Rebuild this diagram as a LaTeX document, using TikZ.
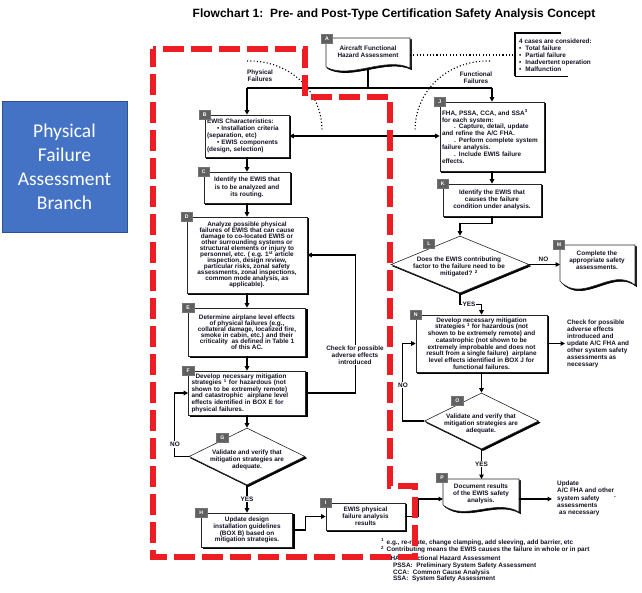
\documentclass[tikz,border=0pt]{standalone}
\usepackage{fontspec}
\setmainfont{Liberation Sans}
\newfontfamily\calibfont{Carlito}
\usetikzlibrary{arrows.meta,shapes.geometric,shadows,calc}
\definecolor{txt}{RGB}{20,20,38}
\definecolor{redd}{RGB}{236,30,36}
\definecolor{bluebox}{RGB}{68,114,196}
\definecolor{blueedge}{RGB}{47,82,143}
\definecolor{tagfill}{RGB}{96,96,96}
\newcommand{\tightls}{\lineskiplimit=-20pt\relax\lineskip=0pt\relax}
\begin{document}
\begin{tikzpicture}[x=1pt,y=-1pt,
  every node/.style={inner sep=0pt, text=txt, font={\bfseries\fontsize{6.4}{6.6}\selectfont\tightls}},
  fs/.style={font={\bfseries\fontsize{6.4}{#1}\selectfont\tightls}},
  shad/.style={copy shadow={shadow xshift=1.6pt, shadow yshift=-1.6pt, fill=black, draw=black, line width=0.6pt}},
  fbox/.style={draw=black!85, line width=0.6pt, fill=white, shad},
  diam/.style={diamond, draw=black!85, line width=0.6pt, fill=white, inner sep=0pt, shad},
  tag/.style={draw=black!55, line width=0.6pt, fill=tagfill, text=white, minimum width=11.5pt, minimum height=9pt, font=\bfseries\fontsize{5.2}{5.2}\selectfont},
  conn/.style={line width=1.3pt, draw=black},
  arr/.style={conn, -{Triangle[length=4.5pt,width=4.5pt]}},
  arrboth/.style={conn, {Triangle[length=4.5pt,width=4.5pt]}-{Triangle[length=4.5pt,width=4.5pt]}},
  lab/.style={fill=white, inner sep=0.8pt},
  dotl/.style={draw=black, line width=1.1pt, dash pattern=on 1.1pt off 2.2pt},
  redline/.style={draw=redd, line width=6pt, dash pattern=on 21pt off 7pt, dash phase=3pt, line join=miter}
]
\useasboundingbox (0,0) rectangle (642,593);
\fill[white] (0,0) rectangle (642,593);

% title
\node[font=\bfseries\fontsize{12}{14}\selectfont, text=black] (title) at (394,14) {Flowchart 1:\ \ Pre- and Post-Type Certification Safety Analysis Concept};

% side label
\node[draw=blueedge, line width=0.8pt, fill=bluebox, minimum width=125pt, minimum height=131pt, text=white, align=center, font=\calibfont\fontsize{19.5}{24}\selectfont] (branch) at (64.5,166.5) {Physical\\Failure\\Assessment\\Branch};

% A (document)
\path[fbox] (326,38) -- (410,38) -- (410,68) .. controls (385,56) and (350,80) .. (326,67) -- cycle;
\node[fs=7, align=center] (A) at (368,51.5) {Aircraft Functional\\Hazard Assessment};
\coordinate (Abot) at (368,68);
\coordinate (Aright) at (410,55);

% 4 cases box
\draw[line width=1.7pt] (561,33) -- (515,33) -- (515,76);
\draw[line width=0.8pt] (515,76) -- (568,76);
\node[fs=7, align=left, anchor=west] (cases) at (519,55) {4 cases are considered:\\•\hspace{4pt}Total failure\\•\hspace{4pt}Partial failure\\•\hspace{4pt}Inadvertent operation\\•\hspace{4pt}Malfunction};
\coordinate (casesL) at (515,55);

% branch labels
\node[fs=7, align=center] (pf) at (260,76) {Physical\\Failures};
\node[fs=7, align=center] (ff) at (476,78) {Functional\\Failures};

% left column
\node[fbox, fs=7, text width=80pt, inner xsep=2pt, minimum height=42pt, align=left] (B) at (247,136) {EWIS Characteristics:\\\hspace*{10pt}• Installation criteria\\(separation, etc)\\\hspace*{10pt}• EWIS components\\(design, selection)};
\node[fbox, fs=7.3, minimum width=86pt, minimum height=31pt, align=center] (C) at (247,187.5) {Identify the EWIS that\\is to be analyzed and\\its routing.};
\node[fbox, fs=5.95, minimum width=120pt, minimum height=76pt, align=center] (D) at (247,255) {Analyze possible physical\\failures of EWIS that can cause\\damage to co-located EWIS or\\other surrounding systems or\\structural elements or injury to\\personnel, etc. ( e.g. 1\textsuperscript{st} article\\inspection, design review,\\particular risks, zonal safety\\assessments, zonal inspections,\\common mode analysis, as\\applicable).};
\node[fbox, fs=6.1, minimum width=117pt, minimum height=48pt, align=center] (E) at (247,332) {Determine airplane level effects\\of physical failures (e.g.,\\collateral damage, localized fire,\\smoke in cabin, etc.) and their\\criticality\ \ as defined in Table 1\\of this AC.};
\node[fbox, fs=6.6, text width=111pt, inner xsep=3pt, minimum height=44pt, align=left] (F) at (247,393) {\hspace*{4pt}Develop necessary mitigation\\strategies \textsuperscript{1} for hazardous (not\\shown to be extremely remote)\\and catastrophic\ \ airplane level\\effects identified in BOX E for\\physical failures.};
\node[diam, minimum width=116pt, minimum height=57pt] (G) at (247,456.5) {};
\node[fs=7, align=center] (Gt) at (247,460) {Validate and verify that\\mitigation strategies are\\adequate.};
\node[fbox, fs=6.8, minimum width=91pt, minimum height=34pt, align=center] (H) at (247,530) {Update design\\installation guidelines\\(BOX B) based on\\mitigation strategies.};
\node[fbox, fs=6.8, minimum width=79pt, minimum height=27pt, align=center] (I) at (365.5,516.5) {EWIS physical\\failure analysis\\results};

% right column
\node[fbox, fs=6.9, text width=100pt, inner xsep=2pt, minimum height=69pt, align=left] (J) at (492,136.5) {FHA, PSSA, CCA, and SSA\textsuperscript{3}\\for each system:\\\hspace*{12pt}. Capture, detail, update\\and refine the A/C FHA.\\\hspace*{12pt}. Perform complete system\\failure analysis.\\\hspace*{12pt}. Include EWIS failure\\effects.};
\node[fbox, fs=6.9, minimum width=98pt, minimum height=32pt, align=center] (K) at (492,200) {Identify the EWIS that\\causes the failure\\condition under analysis.};
\node[diam, minimum width=138pt, minimum height=57pt] (L) at (460,264.5) {};
\node[fs=7, align=center] (Lt) at (459,267) {Does the EWIS contributing\\factor to the failure need to be\\mitigated? \textsuperscript{2}};
\path[fbox] (560,245) -- (635,245) -- (635,285) .. controls (612,266) and (582,305) .. (560,281) -- cycle;
\node[fs=7, align=center] (M) at (597,260) {Complete the\\appropriate safety\\assessments.};
\coordinate (Mleft) at (560,264.5);
\node[fbox, fs=6.75, minimum width=131pt, minimum height=57pt, align=center] (N) at (481.5,343.5) {Develop necessary mitigation\\strategies \textsuperscript{1} for hazardous (not\\shown to be extremely remote) and\\catastrophic (not shown to be\\extremely improbable and does not\\result from a single failure)\ \ airplane\\level effects identified in BOX J for\\functional failures.};
\node[diam, minimum width=114pt, minimum height=56pt] (O) at (481.5,421) {};
\node[fs=7, align=center] (Ot) at (481,424) {Validate and verify that\\mitigation strategies are\\adequate.};
\path[fbox] (443,479) -- (519,479) -- (519,512) .. controls (495,498) and (465,522) .. (443,505) -- cycle;
\node[fs=7, align=center] (P) at (481,493.5) {Document results\\of the EWIS safety\\analysis.};
\coordinate (Ptop) at (481.5,479);
\coordinate (Pleft) at (443,499);
\coordinate (Pright) at (519,499);

% side texts
\node[fs=7, align=left, anchor=west] (chk) at (567,344) {Check for possible\\adverse effects\\introduced and\\update A/C FHA and\\other system safety\\assessments as\\necessary};
\coordinate (chkin) at (565,343.5);
\node[fs=7.2, align=left, anchor=west] (upd) at (557,498.5) {Update\\A/C FHA and other\\system safety\\assessments\\\hspace*{2pt}as necessary};
\coordinate (updin) at (552,499);
\node (dot) at (615,497) {.};

% footnotes
\node[anchor=west] (fn1) at (381,542) {\textsuperscript{1}\hspace{2.5pt}e.g., re-route, change clamping, add sleeving, add barrier, etc};
\node[anchor=west] (fn2) at (381,549.5) {\textsuperscript{2}\hspace{2.5pt}Contributing means the EWIS causes the failure in whole or in part};
\node[anchor=west] (fn3) at (381,557.5) {\textsuperscript{3}\hspace{2.5pt}FHA:\ \ Functional Hazard Assessment};
\node[anchor=west] (fn4) at (393,566) {PSSA:\ \ Preliminary System Safety Assessment};
\node[anchor=west] (fn5) at (393,572.5) {CCA:\ \ Common Cause Analysis};
\node[anchor=west] (fn6) at (393,579) {SSA:\ \ System Safety Assessment};

% connectors top
\coordinate (busL) at (247,88);
\coordinate (busR) at (492,88);
\coordinate (busA) at (368,88);
\draw[conn] (Abot) -- (busA);
\draw[conn, line width=2pt] (busL) -- (busR);
\draw[arr] (busL) -- (B.north);
\draw[arr] (busR) -- (J.north);
\draw[arrboth] (B.east) -- (B.east -| J.west);
\draw[dotl] (Aright) -- (casesL);
\coordinate (pa1) at (247,61);
\coordinate (pa2) at (322,131);
\coordinate (fa1) at (490,61);
\coordinate (fa2) at (415,131);
\draw[dotl] (pa1) .. controls (289,60) and (322,90) .. (pa2);
\draw[dotl] (fa1) .. controls (448,60) and (415,90) .. (fa2);

% left column connectors
\draw[arr] (B.south) -- (C.north);
\draw[arr] (C.south) -- (D.north);
\draw[arr] (D.south) -- (E.north);
\draw[arr] (E.south) -- (F.north);
\draw[arr] (F.south) -- (G.north);
\draw[arr] (G.south) -- node[lab]{YES} (H.north);
\draw[arr] (F.east) -- ++(49.5,0) |- (D.east);
\node[lab, fs=7, align=center] (chkD) at (355,355) {Check for possible\\adverse effects\\introduced};
\draw[arr] (G.west) -- ++(-14,0) |- (F.west);
\node[lab] (noG) at (175,444.5) {NO};
\draw[arr] (H.east) -- ++(12.5,0) |- (I.west);
\draw[arr] (I.east) -- ++(13,0) |- (Pleft);

% right column connectors
\draw[arr] (J.south) -- (K.north);
\draw[arr] (K.south) -- ++(0,7) -| (L.north);
\draw[arr] (L.east) -- (Mleft);
\node (noL) at (543.5,259.5) {NO};
\draw[arr] (L.south) -- ++(0,11.5) -| (N.north);
\node[lab] (yesL) at (469,304.5) {YES};
\draw[arr] (N.east) -- (chkin);
\draw[arr] (N.south) -- (O.north);
\draw[arr] (O.west) -- ++(-21.5,0) |- (N.west);
\node[lab] (noO) at (403,385) {NO};
\draw[arr] (O.south) -- node[lab]{YES} (Ptop);
\draw[arr] (Pright) -- (updin);

% tags
\node[tag] (tA) at (327,39) {A};
\node[tag] (tB) at (B.north west) {B};
\node[tag] (tC) at (C.north west) {C};
\node[tag] (tD) at (D.north west) {D};
\node[tag] (tE) at (E.north west) {E};
\node[tag] (tF) at (F.north west) {F};
\node[tag] (tG) at (222.5,438) {G};
\node[tag] (tH) at (H.north west) {H};
\node[tag] (tI) at (I.north west) {I};
\node[tag] (tJ) at (J.north west) {J};
\node[tag] (tK) at (K.north west) {K};
\node[tag] (tL) at (429,243.5) {L};
\node[tag] (tM) at (559,244.5) {M};
\node[tag] (tN) at (N.north west) {N};
\node[tag] (tO) at (457.5,401) {O};
\node[tag] (tP) at (442,478) {P};

% red dashed outline
\draw[redline] (153,49) -- (153,557) -- (415,557) -- (415,486) -- (390,486) -- (390,97) -- (305,97) -- (305,49) -- cycle;
\end{tikzpicture}
\end{document}
